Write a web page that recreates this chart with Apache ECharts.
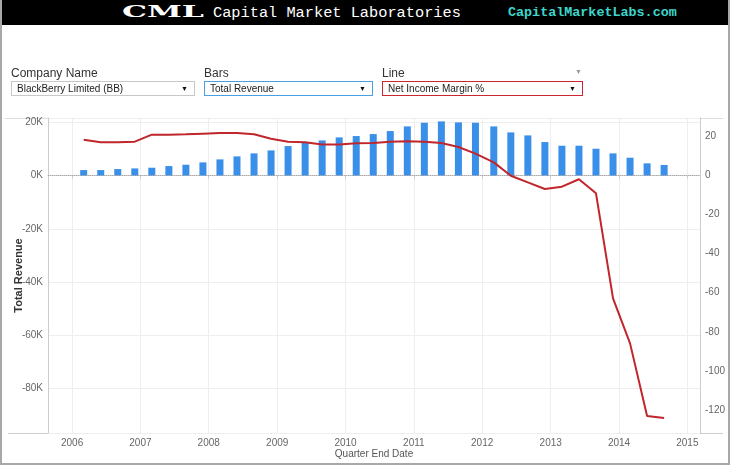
<!DOCTYPE html>
<html>
<head>
<meta charset="utf-8">
<script src="https://cdn.jsdelivr.net/npm/echarts@6/dist/echarts.min.js"></script>
<style>
  body { margin: 0; width: 730px; height: 465px; overflow: hidden; background: #fff;
         font-family: Arial, 'Liberation Sans', sans-serif; position: relative; }
  #chart { position: absolute; left: 0; top: 0; width: 730px; height: 465px; }
  #frame { position: absolute; left: 0; top: 0; width: 730px; height: 465px; box-sizing: border-box;
           border: 2px solid #a8a8a8; border-top: none; pointer-events: none; }
  #hdr { position: absolute; left: 0; top: 0; width: 730px; height: 25px; background: #000; }
  #hdr span { position: absolute; white-space: nowrap; }
  .logo { left: 122px; top: 1px; color: #fff; font: 900 17px 'DejaVu Serif', serif;
          transform: scaleX(1.85); transform-origin: left center; }
  .name { left: 213px; top: 4px; color: #fff; font: 15.3px 'Liberation Mono', monospace; }
  .site { left: 508px; top: 5px; color: #3cd6cc; font: bold 13.4px 'Liberation Mono', monospace; }
  .lbl { position: absolute; top: 66px; font-size: 12px; color: #333; }
  .box { position: absolute; top: 81px; height: 15px; box-sizing: border-box; border: 1px solid #c8c8c8;
         font-size: 10px; line-height: 13px; padding-left: 5px; color: #222; background: #fff; }
  .box:after { content: '\25BC'; position: absolute; right: 6px; top: 0; font-size: 7px; color: #111; }
</style>
</head>
<body>
<div id="chart"></div>
<div id="hdr">
  <span class="logo">CML</span>
  <span class="name">Capital Market Laboratories</span>
  <span class="site">CapitalMarketLabs.com</span>
</div>
<div class="lbl" style="left:11px">Company Name</div>
<div class="box" style="left:11px;width:184px">BlackBerry Limited (BB)</div>
<div class="lbl" style="left:204px">Bars</div>
<div class="box" style="left:204px;width:169px;border-color:#4a9ee2">Total Revenue</div>
<div class="lbl" style="left:382px">Line</div>
<div style="position:absolute;left:575px;top:68px;font-size:7px;color:#9a9a9a">&#9660;</div>
<div class="box" style="left:382px;width:201px;border-color:#cc2630">Net Income Margin %</div>
<div id="frame"></div>
<script>
// Trimestres fiscais (fim do trimestre)
const quarterEnds = [
  '2006-03-04', '2006-06-03', '2006-09-02', '2006-12-02',
  '2007-03-03', '2007-06-02', '2007-09-01', '2007-12-01',
  '2008-03-01', '2008-05-31', '2008-08-30', '2008-11-29',
  '2009-02-28', '2009-05-30', '2009-08-29', '2009-11-28',
  '2010-02-27', '2010-05-29', '2010-08-28', '2010-11-27',
  '2011-02-26', '2011-05-28', '2011-08-27', '2011-11-26',
  '2012-03-03', '2012-06-02', '2012-09-01', '2012-12-01',
  '2013-03-02', '2013-06-01', '2013-08-31', '2013-11-30',
  '2014-03-01', '2014-05-31', '2014-08-30'
];

// Total Revenue (barras, eixo esquerdo)
const totalRevenue = [
  2130, 2130, 2510, 2760, 3010, 3630, 4140, 5010,
  6140, 7270, 8400, 9520, 11150, 12410, 13280, 14410,
  14910, 15660, 16790, 18540, 19920, 20420, 20050, 19920,
  18540, 16290, 15160, 12660, 11280, 11280, 10150, 8400,
  6770, 4650, 4050
];

// Net Income Margin % (linha, eixo direito)
const netIncomeMargin = [
  18.2, 16.9, 16.9, 17.2, 20.8, 20.8, 21.0, 21.3,
  21.6, 21.6, 21.0, 18.7, 17.2, 16.9, 15.7, 15.8,
  16.4, 16.5, 17.2, 17.4, 17.2, 16.5, 14.5, 11.1,
  6.6, -0.2, -3.6, -7.0, -5.8, -2.0, -9.2, -62.9,
  -85.9, -123.0, -124.0
];

const COLORS = {
  bar: '#3a8fe8',
  line: '#c0262c',
  axis: '#cccccc',
  grid: '#eeeeee',
  label: '#666666'
};

const chart = echarts.init(document.getElementById('chart'), null, { renderer: 'canvas' });

const option = {
  animation: false,
  grid: { left: 48, right: 30, top: 118, bottom: 32, containLabel: false, outerBoundsMode: 'none' },
  graphic: [
    { type: 'line', shape: { x1: 5, y1: 118.5, x2: 723, y2: 118.5 }, style: { stroke: '#dddddd', lineWidth: 1 }, silent: true },
    { type: 'line', shape: { x1: 8, y1: 433.5, x2: 723, y2: 433.5 }, style: { stroke: '#cccccc', lineWidth: 1 }, silent: true }
  ],
  xAxis: {
    type: 'time',
    min: '2005-09-13',
    max: '2015-02-19',
    splitNumber: 10,
    minInterval: 365 * 24 * 3600 * 1000,
    maxInterval: 366 * 24 * 3600 * 1000,
    name: 'Quarter End Date',
    nameLocation: 'middle',
    nameGap: 16,
    nameMoveOverlap: false,
    nameTextStyle: { color: '#555', fontSize: 10, fontFamily: 'Arial' },
    axisLine: { show: true, lineStyle: { color: COLORS.axis } },
    axisTick: { show: true, length: 3, lineStyle: { color: COLORS.axis } },
    axisLabel: {
      color: COLORS.label, fontSize: 10, fontFamily: 'Arial', margin: 5,
      showMinLabel: false, showMaxLabel: false,
      formatter: v => String(new Date(v).getFullYear())
    },
    splitLine: { show: true, lineStyle: { color: COLORS.grid } }
  },
  yAxis: [
    {
      type: 'value',
      min: -96700,
      max: 21700,
      splitNumber: 6,
      name: 'Total Revenue',
      nameLocation: 'middle',
      nameGap: 24,
      nameMoveOverlap: false,
      nameTextStyle: { color: '#333', fontSize: 11, fontWeight: 'bold', fontFamily: 'Arial' },
      axisLine: { show: true, lineStyle: { color: COLORS.axis } },
      axisTick: { show: false },
      axisLabel: {
        color: COLORS.label, fontSize: 10, fontFamily: 'Arial', margin: 5,
        formatter: v => (v % 20000 === 0 ? (v / 1000) + 'K' : '')
      },
      splitLine: { show: true, lineStyle: { color: COLORS.grid } }
    },
    {
      type: 'value',
      min: -131.7,
      max: 29.3,
      splitNumber: 8,
      position: 'right',
      axisLine: { show: true, lineStyle: { color: COLORS.axis } },
      axisTick: { show: false },
      axisLabel: {
        color: COLORS.label, fontSize: 10, fontFamily: 'Arial', margin: 5,
        formatter: v => (Math.abs(v % 20) < 1e-6 ? String(Math.round(v)) : '')
      },
      splitLine: { show: false }
    }
  ],
  series: [
    {
      name: 'Total Revenue',
      type: 'bar',
      yAxisIndex: 0,
      barWidth: 7,
      itemStyle: { color: COLORS.bar },
      data: quarterEnds.map((d, i) => [d, totalRevenue[i]]),
      markLine: {
        silent: true,
        symbol: 'none',
        label: { show: false },
        lineStyle: { color: '#aaaaaa', type: 'dotted', width: 1 },
        data: [{ yAxis: 0 }]
      }
    },
    {
      name: 'Net Income Margin %',
      type: 'line',
      yAxisIndex: 1,
      symbol: 'none',
      z: 5,
      lineStyle: { color: COLORS.line, width: 2 },
      itemStyle: { color: COLORS.line },
      data: quarterEnds.map((d, i) => [d, netIncomeMargin[i]])
    }
  ]
};

chart.setOption(option);
</script>
</body>
</html>
